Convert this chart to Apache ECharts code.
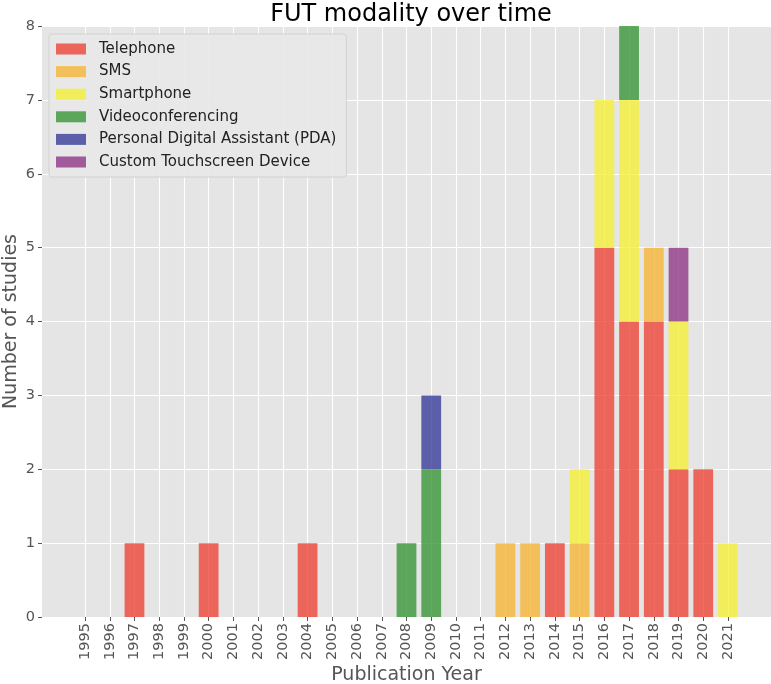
<!DOCTYPE html>
<html>
<head>
<meta charset="utf-8">
<script src="https://cdn.jsdelivr.net/npm/echarts@6/dist/echarts.min.js"></script>
<style>html,body{margin:0;padding:0;background:#fff}#c{width:771px;height:684px}</style>
</head>
<body>
<div id="c"></div>
<script>
const years = [1995,1996,1997,1998,1999,2000,2001,2002,2003,2004,2005,2006,2007,2008,2009,2010,2011,2012,2013,2014,2015,2016,2017,2018,2019,2020,2021];
const yTicks = [0,1,2,3,4,5,6,7,8];
//                 95 96 97 98 99 00 01 02 03 04 05 06 07 08 09 10 11 12 13 14 15 16 17 18 19 20 21
const telephone  = [0, 0, 1, 0, 0, 1, 0, 0, 0, 1, 0, 0, 0, 0, 0, 0, 0, 0, 0, 1, 0, 5, 4, 4, 2, 2, 0];
const sms        = [0, 0, 0, 0, 0, 0, 0, 0, 0, 0, 0, 0, 0, 0, 0, 0, 0, 1, 1, 0, 1, 0, 0, 1, 0, 0, 0];
const smartphone = [0, 0, 0, 0, 0, 0, 0, 0, 0, 0, 0, 0, 0, 0, 0, 0, 0, 0, 0, 0, 1, 2, 3, 0, 2, 0, 1];
const video      = [0, 0, 0, 0, 0, 0, 0, 0, 0, 0, 0, 0, 0, 1, 2, 0, 0, 0, 0, 0, 0, 0, 1, 0, 0, 0, 0];
const pda        = [0, 0, 0, 0, 0, 0, 0, 0, 0, 0, 0, 0, 0, 0, 1, 0, 0, 0, 0, 0, 0, 0, 0, 0, 0, 0, 0];
const custom     = [0, 0, 0, 0, 0, 0, 0, 0, 0, 0, 0, 0, 0, 0, 0, 0, 0, 0, 0, 0, 0, 0, 0, 0, 1, 0, 0];
const seriesNames = ['Telephone','SMS','Smartphone','Videoconferencing','Personal Digital Assistant (PDA)','Custom Touchscreen Device'];
const seriesData = [telephone, sms, smartphone, video, pda, custom];
const colors = ['rgba(237,57,44,0.75)','rgba(246,177,44,0.75)','rgba(246,240,44,0.75)','rgba(44,144,44,0.75)','rgba(44,50,150,0.75)','rgba(137,44,130,0.75)'];

const font = 'DejaVu Sans';
const W = 771;
const plotL = 42, plotR = 0, plotT = 26, plotB = 67;
// x range like matplotlib auto margins (5%) around bars of width 0.8
const xMin = 1993.26, xMax = 2022.74;
const pxPerUnit = (W - plotL - plotR) / (xMax - xMin);
const barL = plotL + (years[0] - 0.5 - xMin) * pxPerUnit;
const barR = W - (plotL + (years[years.length-1] + 0.5 - xMin) * pxPerUnit);

const chart = echarts.init(document.getElementById('c'), null, {renderer:'canvas'});
const series = seriesNames.map((n,i)=>({
  name:n, type:'bar', stack:'all', barWidth:'80%',
  xAxisIndex:1, yAxisIndex:1,
  itemStyle:{color:colors[i]},
  data: seriesData[i].map(v => v === 0 ? null : v)
}));
chart.setOption({
  animation:false,
  color: colors,
  textStyle:{fontFamily:font},
  title:{text:'FUT modality over time', left:406, textAlign:'center', top:-2,
    textStyle:{fontFamily:font, fontSize:24, fontWeight:'normal', color:'#000'}},
  legend:{orient:'vertical', left:49, top:34, padding:[6,10,6,7],
    itemWidth:30, itemHeight:11, itemGap:4.6, icon:'rect',
    backgroundColor:'rgba(232,232,232,0.9)', borderColor:'#d2d2d2', borderWidth:1, borderRadius:3,
    textStyle:{fontFamily:font, fontSize:15, color:'#222', lineHeight:18, padding:[0,0,0,8]}},
  grid:[
    {left:plotL, right:plotR, top:plotT, bottom:plotB, show:true, backgroundColor:'#e5e5e5', borderWidth:0, outerBoundsMode:'none', containLabel:false},
    {left:barL, right:barR, top:plotT, bottom:plotB, show:false, outerBoundsMode:'none', containLabel:false}
  ],
  xAxis:[
    {type:'value', gridIndex:0, min:xMin, max:xMax,
    name:'Publication Year', nameLocation:'middle', nameGap:49, nameMoveOverlap:false,
    nameTextStyle:{fontFamily:font, fontSize:19, color:'#555'},
    axisLine:{show:false},
    axisTick:{show:true, length:4, lineStyle:{color:'#555'}, customValues:years},
    axisLabel:{rotate:90, fontFamily:font, fontSize:14.5, color:'#555', margin:6, customValues:years, formatter:v=>String(v)},
    splitLine:{show:true, lineStyle:{color:'#fff', width:1.1}}},
    {type:'category', gridIndex:1, data:years.map(String), show:false}
  ],
  yAxis:[
    {type:'value', gridIndex:0, min:0, max:8, interval:1,
    name:'Number of studies', nameLocation:'middle', nameGap:21, nameMoveOverlap:false,
    nameTextStyle:{fontFamily:font, fontSize:19, color:'#555'},
    axisLine:{show:false},
    axisTick:{show:true, length:4, lineStyle:{color:'#555'}},
    axisLabel:{fontFamily:font, fontSize:14.5, color:'#555', margin:7},
    splitLine:{show:true, lineStyle:{color:'#fff', width:1.1}}},
    {type:'value', gridIndex:1, min:0, max:8, show:false, splitLine:{show:false}}
  ],
  series: series
});
</script>
</body>
</html>
